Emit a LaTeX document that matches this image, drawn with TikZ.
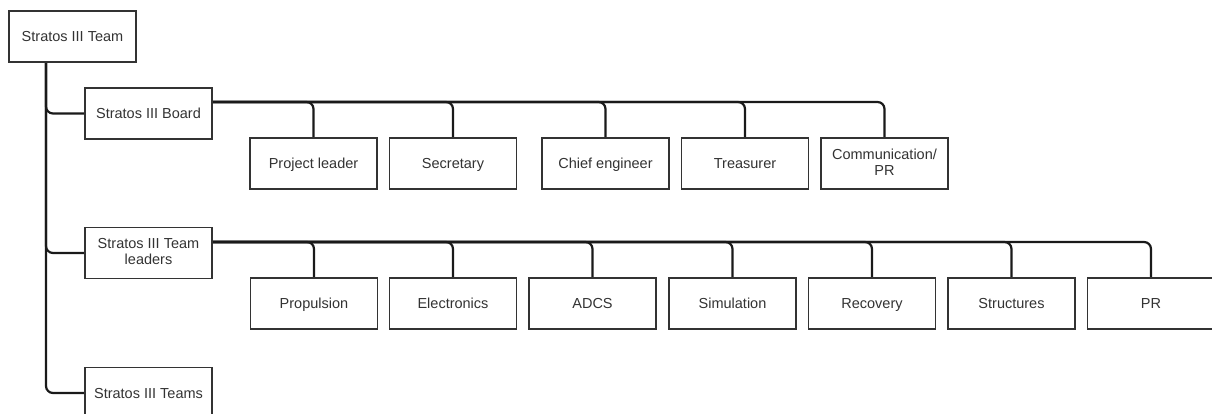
\documentclass[tikz,border=0pt]{standalone}
\usepackage{fontspec}
\setmainfont{Liberation Sans}
\usetikzlibrary{backgrounds}
\definecolor{boxline}{HTML}{333333}
\definecolor{wire}{HTML}{1A1A1A}

\begin{document}
\begin{tikzpicture}[x=1pt, y=-1pt,
  every node/.style={rectangle, draw=boxline, line width=1.4pt, fill=white,
    minimum width=127pt, minimum height=51pt, inner sep=0pt, align=center,
    text=boxline, font=\fontsize{14.5}{16.5}\selectfont,
    execute at begin node={\rule[-2.8pt]{0pt}{15.6pt}}},
  link/.style={draw=wire, line width=2.2pt, rounded corners=7pt}]
  \useasboundingbox (0,0) rectangle (1212,414);

  % left column
  \node (team) at (72.5, 36.5) {Stratos III Team};
  \node (board) at (148.5, 113.5) {Stratos III Board};
  \node (leaders) at (148.5, 253) {Stratos III Team\\leaders};
  \node (teams) at (148.5, 393) {Stratos III Teams};

  % board members
  \node (lead) at (313.5, 163.5) {Project leader};
  \node (secr) at (453, 163.5) {Secretary};
  \node (chief) at (605.5, 163.5) {Chief engineer};
  \node (treas) at (745, 163.5) {Treasurer};
  \node (comm) at (884.5, 163.5) {Communication/\\PR};

  % team leaders
  \node (prop) at (314, 303.5) {Propulsion};
  \node (elec) at (453, 303.5) {Electronics};
  \node (adcs) at (592.5, 303.5) {ADCS};
  \node (simu) at (732.5, 303.5) {Simulation};
  \node (reco) at (872, 303.5) {Recovery};
  \node (stru) at (1011.5, 303.5) {Structures};
  \node (pr) at (1151, 303.5) {PR};

  \coordinate (trunk) at ([xshift=-26.5pt]team.south);
  \coordinate (boardout) at ([yshift=11.5pt]board.east);
  \coordinate (leadout) at ([yshift=11pt]leaders.east);

  \begin{scope}[on background layer]
  \path[link] (trunk) |- (board.west);
  \path[link] (trunk) |- (leaders.west);
  \path[link] (trunk) |- (teams.west);

  \path[link] (boardout) -| (lead.north);
  \path[link] (boardout) -| (secr.north);
  \path[link] (boardout) -| (chief.north);
  \path[link] (boardout) -| (treas.north);
  \path[link] (boardout) -| (comm.north);

  \path[link] (leadout) -| (prop.north);
  \path[link] (leadout) -| (elec.north);
  \path[link] (leadout) -| (adcs.north);
  \path[link] (leadout) -| (simu.north);
  \path[link] (leadout) -| (reco.north);
  \path[link] (leadout) -| (stru.north);
  \path[link] (leadout) -| (pr.north);
  \end{scope}
\end{tikzpicture}
\end{document}
